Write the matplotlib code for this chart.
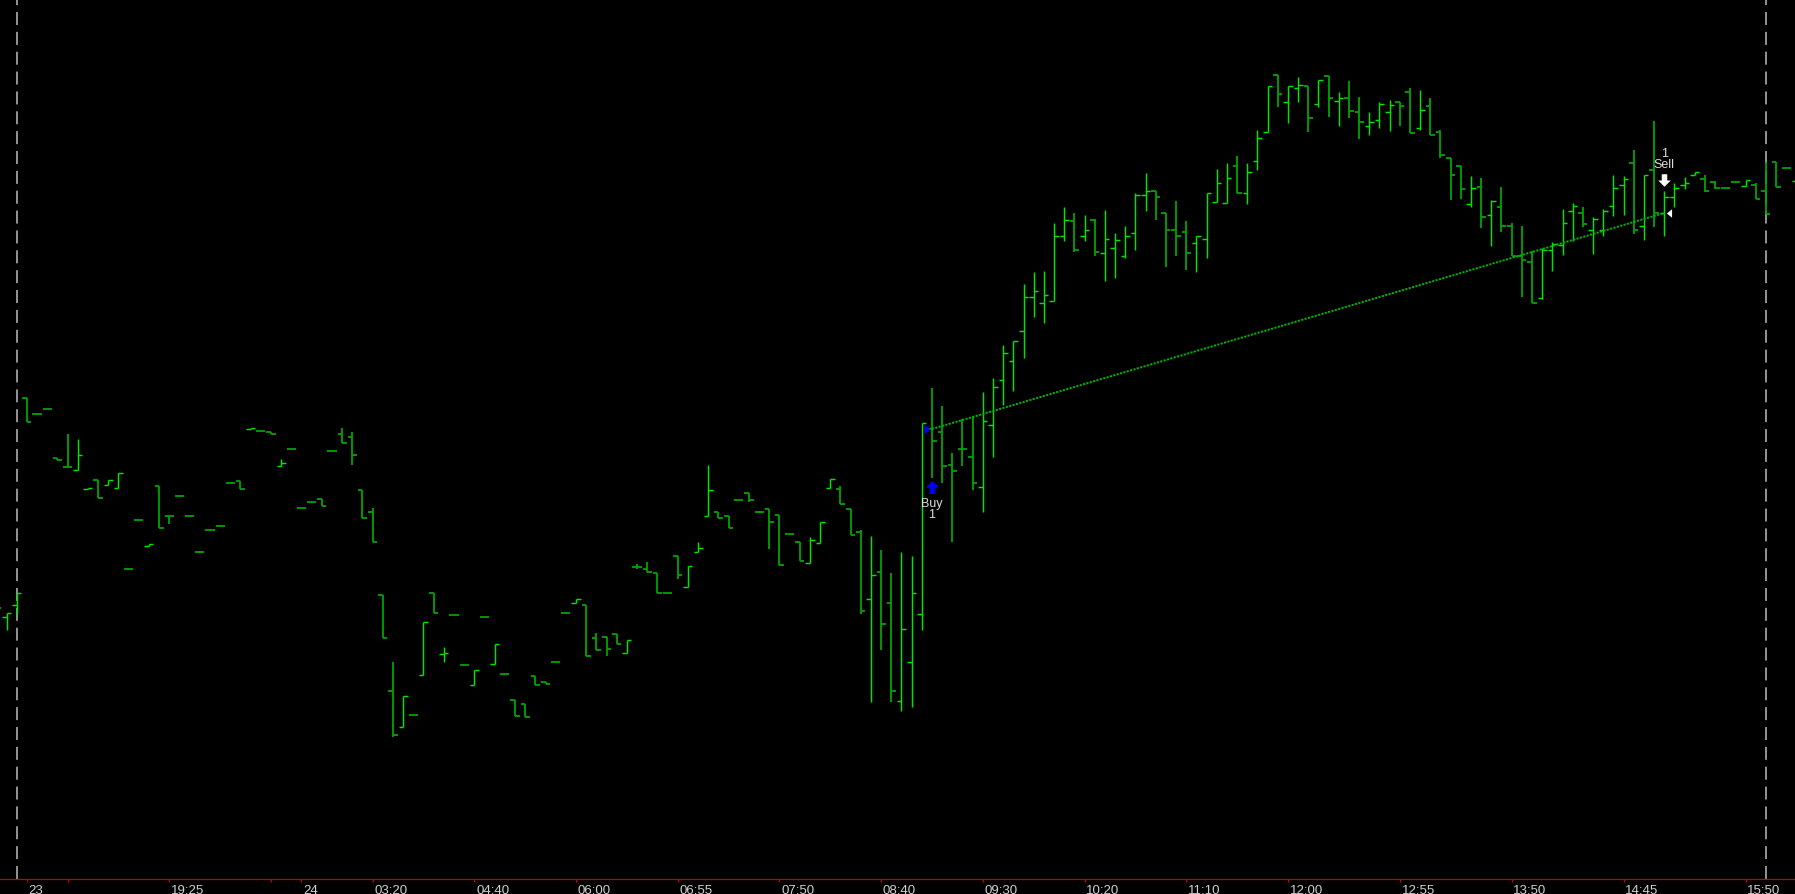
import numpy as np
import matplotlib
matplotlib.use('Agg')
import matplotlib.pyplot as plt
from matplotlib.collections import LineCollection
from matplotlib.path import Path

plt.rcParams['font.family'] = ['Liberation Sans', 'DejaVu Sans']

# ---- data (bar number, OHLC; price in chart points) ----
first_bar = -2

opens = [291, 281.7, 294, 501, 485.3, 490.3, 440.7, 431.7, 429.3, 410,
         419.3, 414, 411.3, 330.3, 379.3, 353.3, 413.3, 383.3, 403.3, 382.7,
         347, 369, 372.7, 415.7, 417.7, 470, 468.3, 466.7, 433.3, 450.3,
         391, 397.3, 399.7, 448, 464.7, 462.3, 409.3, 387, 304, 208.3,
         171.7, 183.7, 224.3, 305.7, 244.7, 283.7, 234.3, 214, 281.7, 235,
         225.3, 199, 194.7, 222.7, 216.7, 237, 286.3, 296, 294, 260.7,
         261.7, 265.3, 245.7, 332.3, 330, 325.7, 305.7, 342.7, 311.7, 347,
         383.3, 387.3, 383, 398.7, 406, 387, 389.7, 383.7, 365, 356.7,
         336, 356.3, 411.3, 409.7, 389.7, 366.7, 299.7, 326.7, 296.3, 198,
         236.7, 285.3, 470, 466.7, 434.3, 450.3, 442.3, 411.7, 474, 519,
         537.7, 568, 602.3, 596, 597.7, 663.3, 678, 663.3, 679.3, 645.7,
         651.3, 643.3, 665.7, 704, 707.7, 685.7, 669, 666.7, 655.7, 659.7,
         697.3, 695.7, 732.7, 706, 738.3, 767.3, 824, 796.7, 811, 812.7,
         795.3, 823.3, 797.7, 801.3, 786.7, 773.3, 779, 786.7, 796.7, 806.7,
         770.7, 793.3, 766.7, 741, 732.7, 695.3, 712.3, 683.7, 692, 673.3,
         643.3, 636.7, 600.7, 649.3, 654.3, 687.7, 686, 669, 669, 693.3,
         714, 736, 673.3, 729, 685.7, 701.7, 714, 724, 720, 716.7,
         710.7, 716.7, 713.3, 714, 708.3, 736.7, 730.7, 718.3]

highs = [291, 285.7, 305.7, 501, 485.3, 490.3, 440.7, 465, 460, 411.3,
         419.3, 419.3, 426, 330.3, 379.3, 355, 413.3, 383.3, 403.3, 382.7,
         347, 369, 372.7, 415.7, 417.7, 471, 468.3, 466.7, 439.7, 450.3,
         391, 397.3, 399.7, 448, 470.7, 466.7, 409.3, 391.3, 304, 237.3,
         202.7, 183.7, 276.7, 305.7, 251.7, 283.7, 234.3, 228.7, 281.7, 255,
         225.3, 199, 194.7, 222.7, 216.7, 237, 286.3, 300, 294, 266,
         261.7, 265.3, 259, 334.7, 336.7, 325.7, 305.7, 342.7, 332.7, 356.7,
         434, 387.3, 383, 398.7, 406, 387, 389.7, 383.7, 365, 356.7,
         362.3, 376.7, 420, 413.3, 389.7, 369.3, 363.3, 349, 326, 346.7,
         343.3, 475.7, 511, 492.7, 446, 480, 482.7, 507.3, 520.7, 554,
         558.3, 615, 626.7, 628.3, 676, 691.7, 686, 684, 680, 689.3,
         666, 673.3, 706, 726, 707.7, 685.7, 697.7, 677.7, 662.7, 706,
         730, 736, 742.7, 736, 769, 812.7, 824, 813.3, 821.7, 812.7,
         819.3, 823.3, 807.3, 818, 801.7, 787.3, 797.3, 799.3, 796.7, 811,
         809.3, 801, 769, 741, 732.7, 722.7, 721, 699.3, 712.3, 676,
         673.3, 648.3, 650.7, 656.7, 690, 696, 691.7, 681.7, 690, 724,
         723.3, 749, 724, 777.7, 707.7, 716, 722.3, 727.3, 724, 718.3,
         710.7, 716.7, 719.3, 715.7, 736.7, 736.7, 730.7, 740]

lows = [291, 269.3, 285, 476.7, 485.3, 490.3, 439.3, 431.7, 429.3, 410,
        401.3, 414, 411.3, 330.3, 379.3, 353.3, 370.7, 374.7, 403.3, 382.7,
        347, 369, 372.7, 415.7, 409.7, 470, 468.3, 464.7, 433.3, 450.3,
        391, 397.3, 393.3, 448, 456, 434, 380.7, 357.3, 260.7, 161.7,
        171.7, 183.7, 224.3, 286, 236.7, 283.7, 234.3, 214, 281.7, 235,
        225.3, 183.3, 182.3, 214, 215, 237, 286.3, 296, 242.7, 249,
        242.7, 254.7, 245.7, 330.3, 326.7, 305.7, 305.7, 320, 311.7, 346.7,
        383.3, 380.7, 370.7, 398.7, 396.7, 387, 350, 334, 365, 338.3,
        336, 356.3, 411.3, 395.3, 364.3, 285.3, 196.7, 249.3, 196.7, 188.3,
        191.7, 269.3, 421, 415.7, 356.7, 432.7, 409.3, 386.7, 441.7, 494,
        508.3, 540.7, 582.3, 575.7, 597.7, 658.3, 646.7, 658.3, 642.7, 618.3,
        620.7, 641.3, 649.3, 687.7, 679, 632.3, 642.7, 629, 626.7, 640.7,
        697.3, 695.7, 706, 694.7, 729.3, 767.3, 791.7, 776.3, 796.7, 767.3,
        791.7, 781.7, 773.3, 781.3, 760, 764.3, 771.3, 768.3, 772.7, 766,
        769, 764.3, 740.7, 699.3, 700, 691.7, 671, 653.3, 667.3, 642.7,
        601.7, 596, 600, 628.3, 644, 658.3, 671.7, 645, 663.3, 682.7,
        684, 665, 659.3, 672.3, 663.3, 691.7, 710, 724, 706.7, 710,
        710.7, 716.7, 713.3, 700, 685, 711.7, 730.7, 718.3]

closes = [291, 285.7, 305.7, 476.7, 485.3, 490.3, 439.3, 431.7, 443.7, 411.3,
          401.3, 419.3, 426, 330.3, 379.3, 355, 370.7, 383.3, 403.3, 382.7,
          347, 369, 372.7, 415.7, 409.7, 471, 468.3, 464.7, 436, 450.3,
          391, 397.3, 393.3, 448, 456, 444.3, 380.7, 357.3, 260.7, 164,
          202.7, 183.7, 276.7, 286, 245.7, 283.7, 234.3, 228.7, 281.7, 255,
          225.3, 183.3, 182.3, 214, 215, 237, 286.3, 300, 242.7, 249.3,
          249.7, 254.7, 259, 332.3, 326.7, 305.7, 305.7, 324.3, 332.7, 351,
          409, 380.7, 370.7, 398.7, 398.7, 387, 376.7, 334, 365, 338.3,
          359.3, 376.7, 420, 395.3, 364.3, 287.7, 324, 275.3, 208.3, 269.7,
          305.7, 475.7, 458, 433.3, 427.7, 450.3, 415.7, 478.3, 511.7, 545.7,
          558.3, 602.3, 608, 604.3, 663.3, 679, 649.3, 669, 647.3, 660,
          659, 663.3, 704, 707.7, 701.7, 669, 662.7, 645.7, 662.7, 706,
          716.3, 720.7, 706, 726.7, 761, 812.7, 805.3, 812.7, 814, 780.7,
          819.3, 801.3, 801.3, 787.7, 776.7, 776.7, 795.3, 793.7, 793.3, 766,
          789, 764.3, 744, 724, 709.7, 710.7, 681.7, 697.7, 673.3, 642.7,
          638.7, 596, 649, 655, 675.7, 693.3, 674.7, 680, 688, 710.7,
          720, 669.3, 724, 685.7, 701.7, 710.7, 716, 727.3, 707.7, 710.7,
          710.7, 716.7, 719.3, 700, 685, 711.7, 730.7, 725]

# time axis (bar number -> label), session separators
tick_pos = [1, 5, 15, 25, 28, 35, 45, 55, 65, 75, 85, 95, 105, 115, 125,
            136, 147, 158, 170]
tick_lab = ['23', '', '19:25', '', '24', '03:20', '04:40', '06:00', '06:55',
            '07:50', '08:40', '09:30', '10:20', '11:10', '12:00', '12:55',
            '13:50', '14:45', '15:50']
session_bars = [0, 172]

# trade
entry_bar, entry_price = 90, 470
exit_bar, exit_price = 162, 686
qty = 1

# ---- plot ----
W, H = 1795, 895
fig = plt.figure(figsize=(W / 100, H / 100), dpi=100, facecolor='black')
ax = fig.add_axes([0, 15 / H, 1, 880 / H], facecolor='black')

up_col = '#00e400'
dn_col = '#00a400'
tw = 0.45
segs, cols, lws = [], [], []
for i in range(len(opens)):
    x = first_bar + i
    o, h, l, c = opens[i], highs[i], lows[i], closes[i]
    up = c > o
    col = up_col if up else dn_col
    segs += [[(x, l), (x, h)], [(x - tw, o), (x, o)], [(x, c), (x + tw, c)]]
    cols += [col] * 3
    lws += [1.05 if up else 1.3] * 3
ax.add_collection(LineCollection(segs, colors=cols, linewidths=lws,
                                 capstyle='butt', zorder=3))

# session separators
for sb in session_bars:
    ax.axvline(sb, color='#bdbdbd', lw=1.1, dashes=(8.5, 4.5), zorder=1)

# trade line + markers
ax.plot([entry_bar, exit_bar], [entry_price, exit_price], color='#00b400',
        lw=1.4, dashes=(1.1, 0.7), zorder=4)

tri_r = Path([(-0.3, 0.5), (0.3, 0), (-0.3, -0.5), (-0.3, 0.5)],
             [Path.MOVETO, Path.LINETO, Path.LINETO, Path.CLOSEPOLY])
tri_l = Path([(0.3, 0.5), (-0.3, 0), (0.3, -0.5), (0.3, 0.5)],
             [Path.MOVETO, Path.LINETO, Path.LINETO, Path.CLOSEPOLY])
arr_up = Path([(0, 0.5), (-0.5, 0), (-0.22, 0), (-0.22, -0.5), (0.22, -0.5),
               (0.22, 0), (0.5, 0), (0, 0.5)],
              [Path.MOVETO] + [Path.LINETO] * 6 + [Path.CLOSEPOLY])
arr_dn = Path([(0, -0.5), (-0.5, 0), (-0.22, 0), (-0.22, 0.5), (0.22, 0.5),
               (0.22, 0), (0.5, 0), (0, -0.5)],
              [Path.MOVETO] + [Path.LINETO] * 6 + [Path.CLOSEPOLY])

ax.plot(entry_bar - 0.45, entry_price, marker=tri_r, ms=7.2, color='#0000ff',
        mec='none', zorder=5)
ax.plot(exit_bar + 0.45, exit_price, marker=tri_l, ms=6.2, color='white',
        mec='none', zorder=5)

eb_low = lows[entry_bar - first_bar]
xb_high = highs[exit_bar - first_bar]
ax.plot(entry_bar, eb_low - 9, marker=arr_up, ms=9.4, color='#0000ff',
        mec='none', zorder=5)
ax.plot(exit_bar, xb_high + 11, marker=arr_dn, ms=9.0, color='white',
        mec='none', zorder=5)
txt = dict(color='#dcdcdc', fontsize=9, ha='center', va='center', zorder=6)
ax.text(entry_bar, eb_low - 25, 'Buy', **txt)
ax.text(entry_bar, eb_low - 36, str(qty), **txt)
ax.text(exit_bar, xb_high + 27, 'Sell', **txt)
ax.text(exit_bar, xb_high + 38, str(qty), **txt)

# axes
ax.set_xlim(-1.642, 174.86)
ax.set_ylim(20, 900)
ax.set_yticks([])
ax.set_xticks(tick_pos)
ax.set_xticklabels([])
ax.tick_params(axis='x', colors='#cc0000', length=2.5, width=0.8,
               direction='out')
for s in ['top', 'left', 'right']:
    ax.spines[s].set_visible(False)
ax.spines['bottom'].set_color('#cc0000')
ax.spines['bottom'].set_linewidth(0.9)

for p, lab in zip(tick_pos, tick_lab):
    if lab:
        ax.annotate(lab, xy=(p, 0), xycoords=('data', 'axes fraction'),
                    xytext=(1.2, -3.6), textcoords='offset points',
                    ha='left', va='top', color='#d0d0d0', fontsize=9.5,
                    annotation_clip=False)

fig.savefig('out.png', dpi=100, facecolor='black')
